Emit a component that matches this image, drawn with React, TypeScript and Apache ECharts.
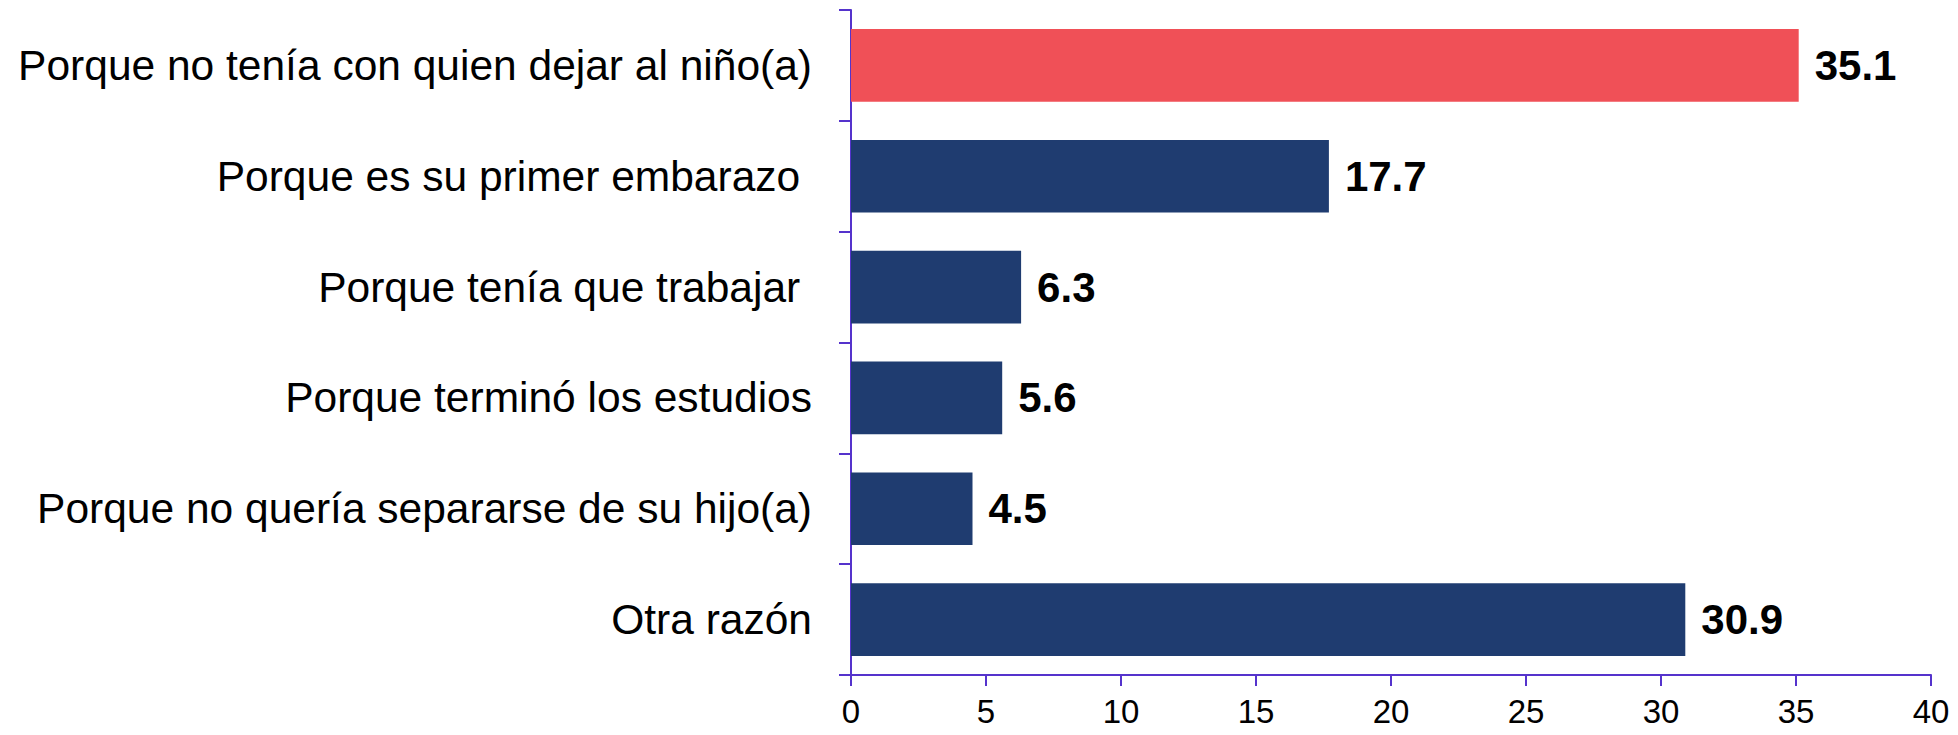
import React, { useEffect, useRef } from "react";
import * as echarts from "echarts";

const categories = [
  "Porque no tenía con quien dejar al niño(a)",
  "Porque es su primer embarazo ",
  "Porque tenía que trabajar ",
  "Porque terminó los estudios",
  "Porque no quería separarse de su hijo(a)",
  "Otra razón",
];
const values = [35.1, 17.7, 6.3, 5.6, 4.5, 30.9];
const barColors = ["#F05057", "#1F3C70", "#1F3C70", "#1F3C70", "#1F3C70", "#1F3C70"];
const xTicks = { min: 0, max: 40, interval: 5 };

export default function App() {
  const ref = useRef<HTMLDivElement>(null);
  useEffect(() => {
    if (!ref.current) return;
    const chart = echarts.init(ref.current, null, { renderer: "svg" });
    const axisColor = "#5533CC";
    chart.setOption({
      animation: false,
      grid: { left: 851, right: 27, top: 10, bottom: 60, containLabel: false },
      xAxis: {
        type: "value",
        min: xTicks.min,
        max: xTicks.max,
        interval: xTicks.interval,
        splitLine: { show: false },
        axisLine: { show: true, lineStyle: { color: axisColor, width: 2 } },
        axisTick: { show: true, length: 11, lineStyle: { color: axisColor, width: 2 } },
        axisLabel: {
          color: "#000",
          fontFamily: "Liberation Sans, Arial, sans-serif",
          fontSize: 33,
          margin: 20,
        },
      },
      yAxis: {
        type: "category",
        inverse: true,
        data: categories,
        axisLine: { show: true, lineStyle: { color: axisColor, width: 2 } },
        axisTick: { show: true, length: 12, alignWithLabel: false, lineStyle: { color: axisColor, width: 2 } },
        axisLabel: {
          color: "#000",
          fontFamily: "Liberation Sans, Arial, sans-serif",
          fontSize: 42.5,
          margin: 39,
        },
      },
      series: [
        {
          type: "bar",
          data: values.map((v, i) => ({ value: v, itemStyle: { color: barColors[i] } })),
          barWidth: "65.6%",
          label: {
            show: true,
            position: "right",
            distance: 16,
            color: "#000",
            fontWeight: "bold",
            fontFamily: "Liberation Sans, Arial, sans-serif",
            fontSize: 42,
            formatter: (p: any) => p.value.toFixed(1),
          },
        },
      ],
    });
    return () => chart.dispose();
  }, []);
  return (
    <div
      ref={ref}
      style={{ position: "absolute", left: 0, top: 0, width: 1958, height: 735, background: "#fff" }}
    />
  );
}
